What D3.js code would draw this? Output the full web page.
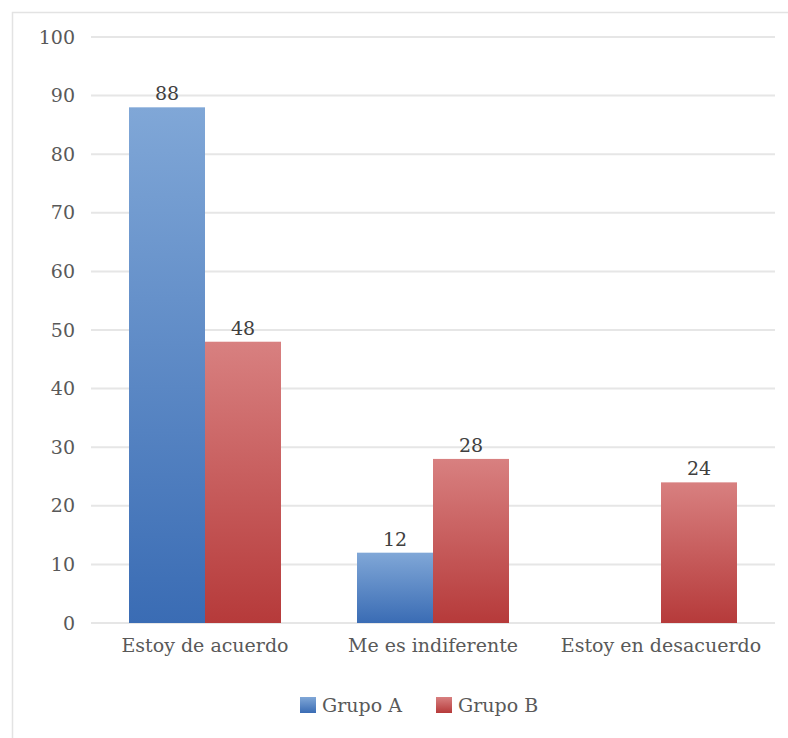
<!DOCTYPE html>
<html>
<head>
<meta charset="utf-8">
<script src="https://cdn.jsdelivr.net/npm/d3@7"></script>
<style>
  body { margin: 0; background: #fff; }
  text { font-family: "DejaVu Serif", serif; }
</style>
</head>
<body>
<div id="chart"></div>
<script>
// data
const categories = ["Estoy de acuerdo", "Me es indiferente", "Estoy en desacuerdo"];
const seriesNames = ["Grupo A", "Grupo B"];
const grupoA = [88, 12, null];
const grupoB = [48, 28, 24];
const yTicks = [0, 10, 20, 30, 40, 50, 60, 70, 80, 90, 100];

(function(){

const width = 788, height = 738;
const fontSize = 19;

const svg = d3.select("#chart").append("svg")
  .attr("width", width)
  .attr("height", height);

// frame of the chart area (only top + left show in the picture)
svg.append("rect")
  .attr("x", 12.5).attr("y", 12.5)
  .attr("width", 800).attr("height", 800)
  .attr("fill", "none")
  .attr("stroke", "#e3e3e3")
  .attr("stroke-width", 1.5);

const defs = svg.append("defs");
const grads = [
  { id: "gA", top: "#80a7d7", bottom: "#3a6cb4" },
  { id: "gB", top: "#d88080", bottom: "#b63a3a" }
];
grads.forEach(g => {
  const lg = defs.append("linearGradient")
    .attr("id", g.id)
    .attr("x1", 0).attr("y1", 0).attr("x2", 0).attr("y2", 1);
  lg.append("stop").attr("offset", "0%").attr("stop-color", g.top);
  lg.append("stop").attr("offset", "100%").attr("stop-color", g.bottom);
});

const plotLeft = 91, plotRight = 775, plotTop = 37, plotBottom = 623;

const y = d3.scaleLinear().domain([0, 100]).range([plotBottom, plotTop]);

const x0 = d3.scaleBand()
  .domain(categories)
  .range([plotLeft, plotRight])
  .paddingInner(1 / 3)
  .paddingOuter(1 / 6);

const x1 = d3.scaleBand()
  .domain(seriesNames)
  .range([0, x0.bandwidth()]);

// gridlines
svg.append("g")
  .selectAll("line")
  .data(yTicks)
  .enter().append("line")
  .attr("x1", plotLeft).attr("x2", plotRight)
  .attr("y1", d => y(d)).attr("y2", d => y(d))
  .attr("stroke", "#e6e6e6")
  .attr("stroke-width", 2);

// y axis labels
const yAxis = svg.append("g")
  .attr("transform", `translate(${plotLeft},0)`)
  .call(d3.axisLeft(y).tickValues(yTicks).tickSize(0).tickPadding(16));
yAxis.select(".domain").remove();
yAxis.selectAll("text")
  .attr("font-family", "DejaVu Serif")
  .attr("font-size", fontSize)
  .attr("fill", "#595959");

// bars
const rows = categories.map((c, i) => ({ cat: c, vals: [grupoA[i], grupoB[i]] }));

const groups = svg.selectAll(".cat")
  .data(rows)
  .enter().append("g")
  .attr("class", "cat")
  .attr("transform", d => `translate(${x0(d.cat)},0)`);

const bars = groups.selectAll("g.bar")
  .data(d => d.vals.map((v, j) => ({ name: seriesNames[j], v: v, j: j })).filter(e => e.v != null))
  .enter().append("g").attr("class", "bar");

bars.append("rect")
  .attr("x", d => x1(d.name))
  .attr("y", d => y(d.v))
  .attr("width", x1.bandwidth())
  .attr("height", d => y(0) - y(d.v))
  .attr("fill", d => `url(#${grads[d.j].id})`);

bars.append("text")
  .attr("x", d => x1(d.name) + x1.bandwidth() / 2)
  .attr("y", d => y(d.v) - 7)
  .attr("text-anchor", "middle")
  .attr("font-size", fontSize)
  .attr("fill", "#404040")
  .text(d => d.v);

// x axis labels
const xAxis = svg.append("g")
  .attr("transform", `translate(0,${plotBottom})`)
  .call(d3.axisBottom(x0).tickSize(0).tickPadding(16));
xAxis.select(".domain").remove();
xAxis.selectAll("text")
  .attr("font-family", "DejaVu Serif")
  .attr("font-size", fontSize)
  .attr("fill", "#595959");

// legend
const legend = svg.append("g").attr("transform", "translate(300,697)");
const legendX = [0, 136];
seriesNames.forEach((s, i) => {
  const g = legend.append("g").attr("transform", `translate(${legendX[i]},0)`);
  g.append("rect")
    .attr("width", 16).attr("height", 16)
    .attr("fill", `url(#${grads[i].id})`);
  g.append("text")
    .attr("x", 22).attr("y", 15)
    .attr("font-size", fontSize)
    .attr("fill", "#595959")
    .text(s);
});

})();
</script>
</body>
</html>
